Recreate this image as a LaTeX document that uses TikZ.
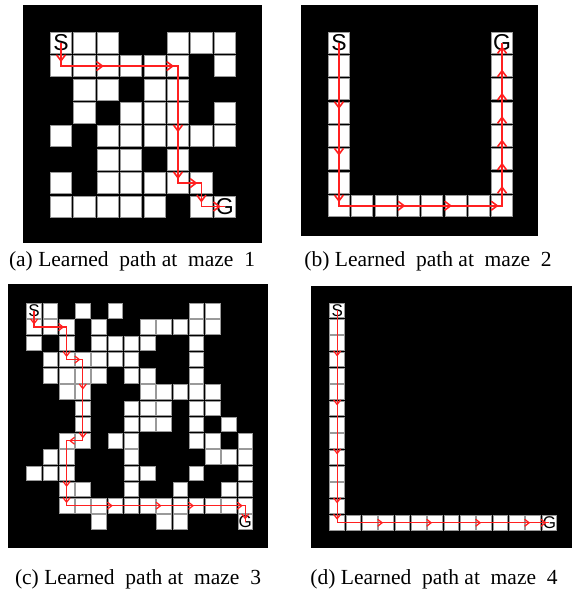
\documentclass[tikz,border=0pt]{standalone}
\usepackage{fontspec}
\setmainfont{Liberation Serif}
\setsansfont{Liberation Sans}
\usetikzlibrary{arrows.meta}
\definecolor{pathred}{HTML}{FF2020}
\definecolor{cellgray}{HTML}{9A9A9A}

\tikzset{
  mazebg/.style={fill=black},
  mazecell/.style={fill=white, draw=cellgray, line width=0.8pt},
  route/.style={draw=pathred, line width=1.6pt},
  walk/.style={route, -{Straight Barb[length=6pt, width=9pt]}, shorten >=4pt},
  shortwalk/.style={route, line width=1.25pt, -{Straight Barb[length=4.5pt, width=7pt]}, shorten >=2.5pt},
  endlabel/.style={inner sep=0pt, font=\sffamily\fontsize{#1}{#1}\selectfont},
  endlabel/.default=23,
  subcap/.style={anchor=base, font=\fontsize{21.5}{25}\selectfont}
}

\newcommand{\cellrow}[2]{\foreach \cx in {#2}{\filldraw[mazecell] (\cx+0.05,#1+0.05) rectangle (\cx+0.95,#1+0.95);}}

\begin{document}
\begin{tikzpicture}[x=1pt, y=-1pt]
  \useasboundingbox[fill=white] (0,0) rectangle (572,596);

  \fill[mazebg] (23,5) rectangle (262,243);
  \begin{scope}[shift={(49.3,31)}, x=23.4pt, y=-23.4pt]
    \cellrow{0}{0,1,2,5,6,7}
    \cellrow{1}{0,1,2,3,4,5,7}
    \cellrow{2}{1,2,4,5}
    \cellrow{3}{1,3,4,5,7}
    \cellrow{4}{0,2,3,4,5,6,7}
    \cellrow{5}{2,3,5}
    \cellrow{6}{0,2,3,4,5,6}
    \cellrow{7}{0,1,2,3,4,6,7}
    \foreach \u/\v [count=\i] in {0/0,0/1,2/1,5/1,5/4,5/6,6/6,6/7,7/7}
      \coordinate (a\i) at (\u+0.5,\v+0.5);
    \node[endlabel] (s1) at (a1) {S};
    \node[endlabel] (g1) at (a9) {G};
    \draw[route] (a1) \foreach \i in {2,...,9}{ -- (a\i)};
    \foreach \i [evaluate=\i as \j using int(\i+1)] in {1,...,8}
      \draw[walk] (a\i) -- (a\j);
  \end{scope}

  \fill[mazebg] (301,5) rectangle (538,236);
  \begin{scope}[shift={(327.3,31)}, x=23.3pt, y=-23.3pt]
    \foreach \r in {0,...,7}{\cellrow{\r}{0,7}}
    \cellrow{7}{1,...,6}
    \foreach \u/\v [count=\i] in {0/0,0/3,0/5,0/7,3/7,5/7,7/7,7/6,7/5,7/4,7/3,7/2,7/1,7/0}
      \coordinate (b\i) at (\u+0.5,\v+0.5);
    \node[endlabel] (s2) at (b1) {S};
    \node[endlabel] (g2) at (b14) {G};
    \draw[route] (b1) \foreach \i in {2,...,14}{ -- (b\i)};
    \foreach \i [evaluate=\i as \j using int(\i+1)] in {1,...,13}
      \draw[walk, shorten >=3.5pt] (b\i) -- (b\j);
  \end{scope}

  \fill[mazebg] (8,284) rectangle (268,548);
  \begin{scope}[shift={(26,302.7)}, x=16.24pt, y=-16.24pt]
    \cellrow{0}{0,1,3,5,10,11}
    \cellrow{1}{0,1,2,4,7,8,9,10,11}
    \cellrow{2}{0,2,4,5,6,7,10}
    \cellrow{3}{1,2,3,4,5,6,10}
    \cellrow{4}{1,2,3,4,6,7,10}
    \cellrow{5}{2,3,7,8,9,10,11}
    \cellrow{6}{3,6,7,8,10,11}
    \cellrow{7}{3,6,7,8,10,12}
    \cellrow{8}{2,3,5,6,10,11,13}
    \cellrow{9}{1,2,6,11,12,13}
    \cellrow{10}{0,1,2,6,7,10,13}
    \cellrow{11}{2,3,6,9,12,13}
    \cellrow{12}{2,...,13}
    \cellrow{13}{4,8,9,13}
    \foreach \u/\v [count=\i] in {0/0,0/1,2/1,2/3,3/3,3/5,3/8,2/8,2/11,2/12,5/12,8/12,10/12,13/12,13/13}
      \coordinate (c\i) at (\u+0.5,\v+0.5);
    \node[endlabel=17] (s3) at (c1) {S};
    \node[endlabel=17] (g3) at (c15) {G};
    \draw[route, line width=1.25pt] (c1) \foreach \i in {2,...,15}{ -- (c\i)};
    \foreach \i [evaluate=\i as \j using int(\i+1)] in {1,...,14}
      \draw[shortwalk] (c\i) -- (c\j);
  \end{scope}

  \fill[mazebg] (311,286) rectangle (572,548);
  \begin{scope}[shift={(329,302.3)}, x=16.33pt, y=-16.33pt]
    \foreach \r in {0,...,13}{\cellrow{\r}{0}}
    \cellrow{13}{1,...,13}
    \foreach \u/\v [count=\i] in {0/0,0/3,0/6,0/9,0/12,0/13,3/13,6/13,9/13,12/13,13/13}
      \coordinate (d\i) at (\u+0.5,\v+0.5);
    \node[endlabel=17] (s4) at (d1) {S};
    \node[endlabel=17] (g4) at (d11) {G};
    \draw[route, line width=1.25pt] (d1) \foreach \i in {2,...,11}{ -- (d\i)};
    \foreach \i [evaluate=\i as \j using int(\i+1)] in {1,...,10}
      \draw[shortwalk, shorten >=3pt] (d\i) -- (d\j);
  \end{scope}

  \node[subcap] (capa) at (132,266) {(a) Learned\ \ path at\ \ maze\ \ 1};
  \node[subcap] (capb) at (428,266) {(b) Learned\ \ path at\ \ maze\ \ 2};
  \node[subcap] (capc) at (138,584) {(c) Learned\ \ path at\ \ maze\ \ 3};
  \node[subcap] (capd) at (434,584) {(d) Learned\ \ path at\ \ maze\ \ 4};
\end{tikzpicture}
\end{document}
